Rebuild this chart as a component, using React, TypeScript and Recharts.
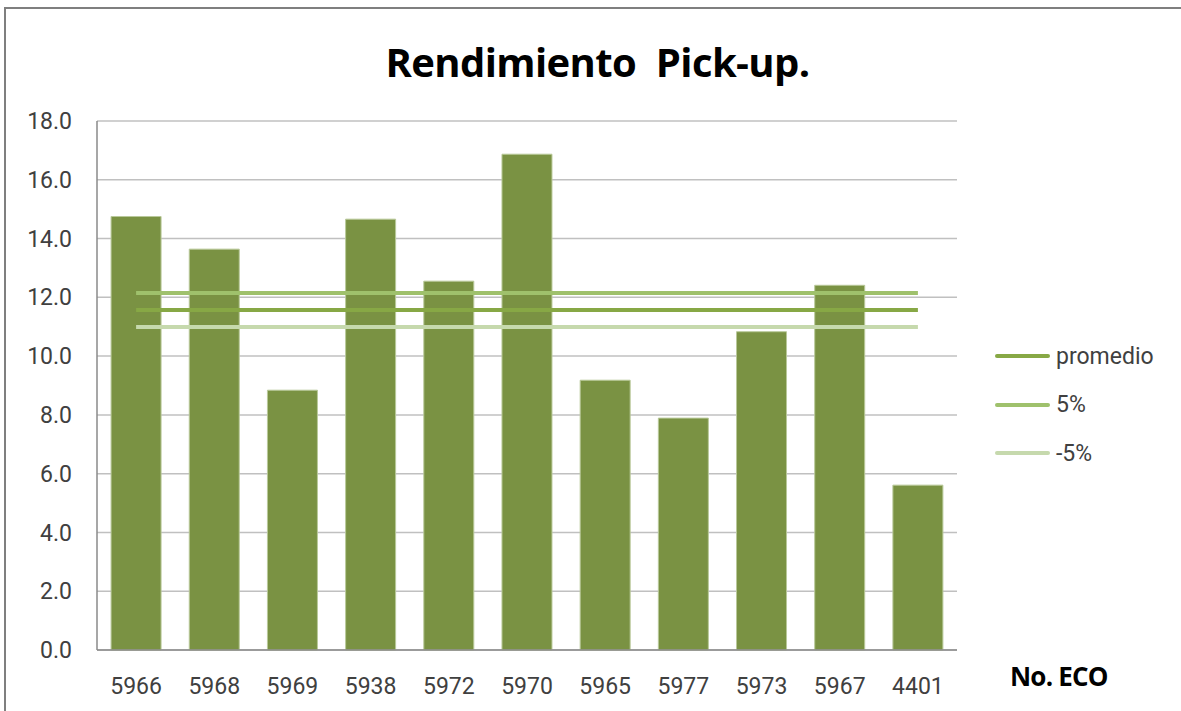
import {
  Bar,
  CartesianGrid,
  ComposedChart,
  Line,
  XAxis,
  YAxis
} from 'recharts';

const categorias = ['5966', '5968', '5969', '5938', '5972', '5970', '5965', '5977', '5973', '5967', '4401'];
const rendimiento = [14.75, 13.64, 8.84, 14.66, 12.55, 16.87, 9.18, 7.89, 10.83, 12.41, 5.61];
const promedio = [11.57, 11.57, 11.57, 11.57, 11.57, 11.57, 11.57, 11.57, 11.57, 11.57, 11.57];
const mas5 = [12.15, 12.15, 12.15, 12.15, 12.15, 12.15, 12.15, 12.15, 12.15, 12.15, 12.15];
const menos5 = [10.99, 10.99, 10.99, 10.99, 10.99, 10.99, 10.99, 10.99, 10.99, 10.99, 10.99];
const yTicks = [0, 2, 4, 6, 8, 10, 12, 14, 16, 18];

const series = [
  { key: 'promedio', label: 'promedio', color: '#87a845' },
  { key: 'mas5', label: '5%', color: '#9fc16c' },
  { key: 'menos5', label: '-5%', color: '#c6d9ad' }
];

const font = 'Roboto, "Open Sans", sans-serif';

const chartData = categorias.map((cat, idx) => ({
  name: cat,
  rendimiento: rendimiento[idx],
  promedio: promedio[idx],
  mas5: mas5[idx],
  menos5: menos5[idx]
}));

// leyenda a la derecha, solo las tres lineas
function Leyenda() {
  return (
    <div
      style={{
        position: 'absolute',
        left: 995,
        top: 332,
        fontFamily: font,
        fontSize: 23,
        color: '#404040'
      }}
    >
      {series.map((s) => (
        <div key={s.key} style={{ display: 'flex', alignItems: 'center', height: 48.5 }}>
          <div style={{ width: 55, height: 4, background: s.color, borderRadius: 2, marginRight: 6 }} />
          <span>{s.label}</span>
        </div>
      ))}
    </div>
  );
}

export default function App() {
  return (
    <div style={{ position: 'absolute', left: 0, top: 0, width: 1181, height: 711, background: '#fff', overflow: 'hidden' }}>
      <div
        style={{
          position: 'absolute',
          left: 4,
          top: 7,
          width: 1181,
          height: 711,
          borderTop: '2px solid #7f7f7f',
          borderLeft: '2px solid #7f7f7f',
          boxSizing: 'border-box'
        }}
      />
      <div
        style={{
          position: 'absolute',
          left: 0,
          top: 34,
          width: 1195,
          textAlign: 'center',
          fontFamily: '"Open Sans", sans-serif',
          fontWeight: 700,
          fontSize: 40,
          letterSpacing: -0.6,
          color: '#000',
          whiteSpace: 'pre'
        }}
      >
        {'Rendimiento  Pick-up.'}
      </div>
      <div
        style={{
          position: 'absolute',
          left: 1010,
          top: 658,
          fontFamily: '"Open Sans", sans-serif',
          fontWeight: 700,
          fontSize: 26,
          letterSpacing: -0.8,
          color: '#000'
        }}
      >
        No. ECO
      </div>
      <ComposedChart
        width={1181}
        height={711}
        data={chartData}
        margin={{ top: 121, right: 224, left: 0, bottom: 0 }}
        barCategoryGap="18%"
        style={{ position: 'absolute', left: 0, top: 0 }}
      >
        <CartesianGrid vertical={false} stroke="#c0c0c0" strokeWidth={1.5} />
        <XAxis
          dataKey="name"
          height={61}
          tickLine={false}
          tickSize={0}
          tickMargin={28}
          axisLine={{ stroke: '#8a8a8a', strokeWidth: 1.5 }}
          tick={{ fontSize: 23, fill: '#404040', fontFamily: font }}
          interval={0}
        />
        <YAxis
          width={97}
          domain={[0, 18]}
          ticks={yTicks}
          tickFormatter={(v: number) => v.toFixed(1)}
          tickLine={false}
          tickSize={0}
          tickMargin={25}
          axisLine={{ stroke: '#8a8a8a', strokeWidth: 1.5 }}
          tick={{ fontSize: 23, fill: '#404040', fontFamily: font }}
          interval={0}
        />
        <Bar
          dataKey="rendimiento"
          fill="#7a9243"
          stroke="#b9c99a"
          strokeWidth={1}
          isAnimationActive={false}
        />
        {series.map((s) => (
          <Line
            key={s.key}
            dataKey={s.key}
            name={s.label}
            stroke={s.color}
            strokeWidth={4}
            dot={false}
            activeDot={false}
            isAnimationActive={false}
          />
        ))}
      </ComposedChart>
      <Leyenda />
    </div>
  );
}
